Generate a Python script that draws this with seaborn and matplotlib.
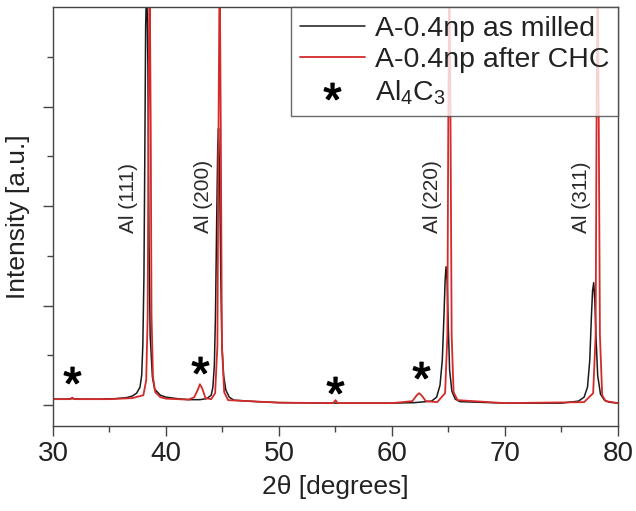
import numpy as np
import pandas as pd
import matplotlib
matplotlib.use("Agg")
import matplotlib.pyplot as plt
from matplotlib.lines import Line2D
import seaborn as sns

sns.set_theme(style="white")
plt.rcParams['font.family'] = ['Liberation Sans', 'DejaVu Sans']
plt.rcParams['mathtext.default'] = 'regular'

# ---- data: as milled (black) ----
milled_x = [30.0, 31.0, 31.7, 32.5, 34.0, 35.5, 36.5, 37.0, 37.4, 37.7, 37.85, 37.95,
            38.05, 38.12, 38.2, 38.3, 38.4, 38.5, 38.6, 38.8, 39.0, 39.5, 40.0, 41.0,
            42.0, 43.0, 43.6, 44.0, 44.15, 44.28, 44.38, 44.48, 44.58, 44.65, 44.75,
            44.85, 44.95, 45.1, 45.3, 45.6, 46.0, 48.0, 50.0, 55.0, 60.0, 62.0, 63.5,
            63.95, 64.25, 64.45, 64.6, 64.7, 64.78, 64.88, 64.98, 65.1, 65.3, 65.6,
            66.0, 70.0, 75.0, 76.5, 77.0, 77.3, 77.5, 77.65, 77.75, 77.85, 77.95,
            78.05, 78.2, 78.45, 78.8, 79.2, 80.0]
milled_y = [0.06, 0.06, 0.065, 0.06, 0.06, 0.065, 0.075, 0.09, 0.12, 0.18, 0.30, 0.6,
            1.3, 2.4, 3.8, 4.3, 3.4, 1.6, 0.7, 0.28, 0.16, 0.10, 0.08, 0.065,
            0.055, 0.055, 0.065, 0.10, 0.18, 0.4, 0.9, 1.8, 2.6, 2.78, 2.3,
            1.3, 0.6, 0.3, 0.15, 0.08, 0.05, 0.035, 0.025, 0.02, 0.02, 0.025, 0.04,
            0.08, 0.2, 0.45, 0.9, 1.25, 1.39, 1.25, 0.8, 0.35, 0.14, 0.06,
            0.035, 0.02, 0.02, 0.04, 0.08, 0.18, 0.45, 0.9, 1.15, 1.23, 1.05,
            0.7, 0.3, 0.11, 0.05, 0.03, 0.02]

# ---- data: after CHC (red) ----
chc_x = [30.0, 31.5, 31.7, 31.9, 35.0, 37.0, 38.0, 38.25, 38.38, 38.45, 38.55, 38.65,
         38.72, 38.85, 39.05, 39.5, 40.0, 42.0, 42.5, 42.8, 43.0, 43.2, 43.5, 44.0,
         44.35, 44.55, 44.65, 44.75, 44.85, 44.95, 45.15, 45.5, 50.0, 54.8, 55.0,
         55.2, 60.0, 61.8, 62.2, 62.4, 62.6, 63.0, 64.0, 64.7, 64.9, 64.98, 65.08,
         65.18, 65.28, 65.45, 65.8, 70.0, 77.0, 77.8, 78.02, 78.1, 78.2, 78.3, 78.4,
         78.6, 78.9, 80.0]
chc_y = [0.06, 0.06, 0.075, 0.06, 0.06, 0.07, 0.10, 0.25, 0.9, 2.8, 4.5, 2.8,
         0.9, 0.28, 0.13, 0.08, 0.065, 0.055, 0.08, 0.15, 0.21, 0.17, 0.07, 0.06,
         0.12, 0.6, 2.8, 4.5, 2.8, 0.6, 0.13, 0.05, 0.025, 0.02, 0.05,
         0.02, 0.02, 0.04, 0.10, 0.12, 0.10, 0.04, 0.03, 0.12, 0.7, 2.8, 4.5,
         2.8, 0.7, 0.13, 0.05, 0.02, 0.03, 0.12, 0.7, 2.8, 4.5, 2.8, 0.7,
         0.1, 0.04, 0.02]

peak_labels = ["Al (111)", "Al (200)", "Al (220)", "Al (311)"]
peak_label_x = [36.7, 43.3, 63.6, 76.8]
peak_label_y = [1.73, 1.73, 1.73, 1.73]

star_x = [31.7, 43.0, 55.0, 62.6]
star_y = [0.30, 0.40, 0.20, 0.35]

x_ticks = [30, 40, 50, 60, 70, 80]

df_m = pd.DataFrame({"x": milled_x, "y": milled_y})
df_c = pd.DataFrame({"x": chc_x, "y": chc_y})

fig = plt.figure(figsize=(6.36, 5.11), dpi=100)
ax = fig.add_axes([0.0833, 0.1663, 0.8884, 0.82])

sns.lineplot(data=df_m, x="x", y="y", color="#1a1a1a", lw=1.1, ax=ax,
             label="A-0.4np as milled", estimator=None, sort=False)
sns.lineplot(data=df_c, x="x", y="y", color="#d42a2a", lw=1.3, ax=ax,
             label="A-0.4np after CHC", estimator=None, sort=False)

for lab, px, py in zip(peak_labels, peak_label_x, peak_label_y):
    ax.text(px, py, lab, rotation=90, ha="center", va="bottom", fontsize=15, color="#2a2a2a")

for sx, sy in zip(star_x, star_y):
    ax.plot(sx, sy, ls="none", marker="$*$", markersize=12, color="black")

ax.set_xlim(30, 80)
ax.set_ylim(-0.21, 4.0)
ax.set_xticks(x_ticks)
ax.set_xticks([35, 45, 55, 65, 75], minor=True)
ax.set_yticks([0, 1, 2, 3])
ax.set_yticks([0.5, 1.5, 2.5, 3.5], minor=True)
ax.set_yticklabels([])
ax.tick_params(axis="both", which="major", direction="out", length=7, width=1,
               color="#444444", labelsize=20, labelcolor="#222222", bottom=True, left=True)
ax.tick_params(axis="both", which="minor", direction="out", length=4, width=1,
               color="#444444", bottom=True, left=True)
for s in ax.spines.values():
    s.set_color("#444444")
    s.set_linewidth(1.0)

ax.set_xlabel("2θ [degrees]", fontsize=19, color="#222222", labelpad=6)
ax.set_ylabel("Intensity [a.u.]", fontsize=19, color="#222222", labelpad=6)

h, l = ax.get_legend_handles_labels()
h.append(Line2D([], [], ls="none", marker="$*$", markersize=12, color="black"))
l.append("Al$_4$C$_3$")
leg = ax.legend(h, l, loc="upper right", fontsize=20.5, frameon=True, fancybox=False,
                borderaxespad=0, handlelength=2.3, handletextpad=0.35,
                labelspacing=0.2, borderpad=0.3)
leg.get_frame().set_edgecolor("#444444")
leg.get_frame().set_linewidth(1.0)
for t in leg.get_texts():
    t.set_color("#222222")

fig.savefig("out.png", dpi=100)
